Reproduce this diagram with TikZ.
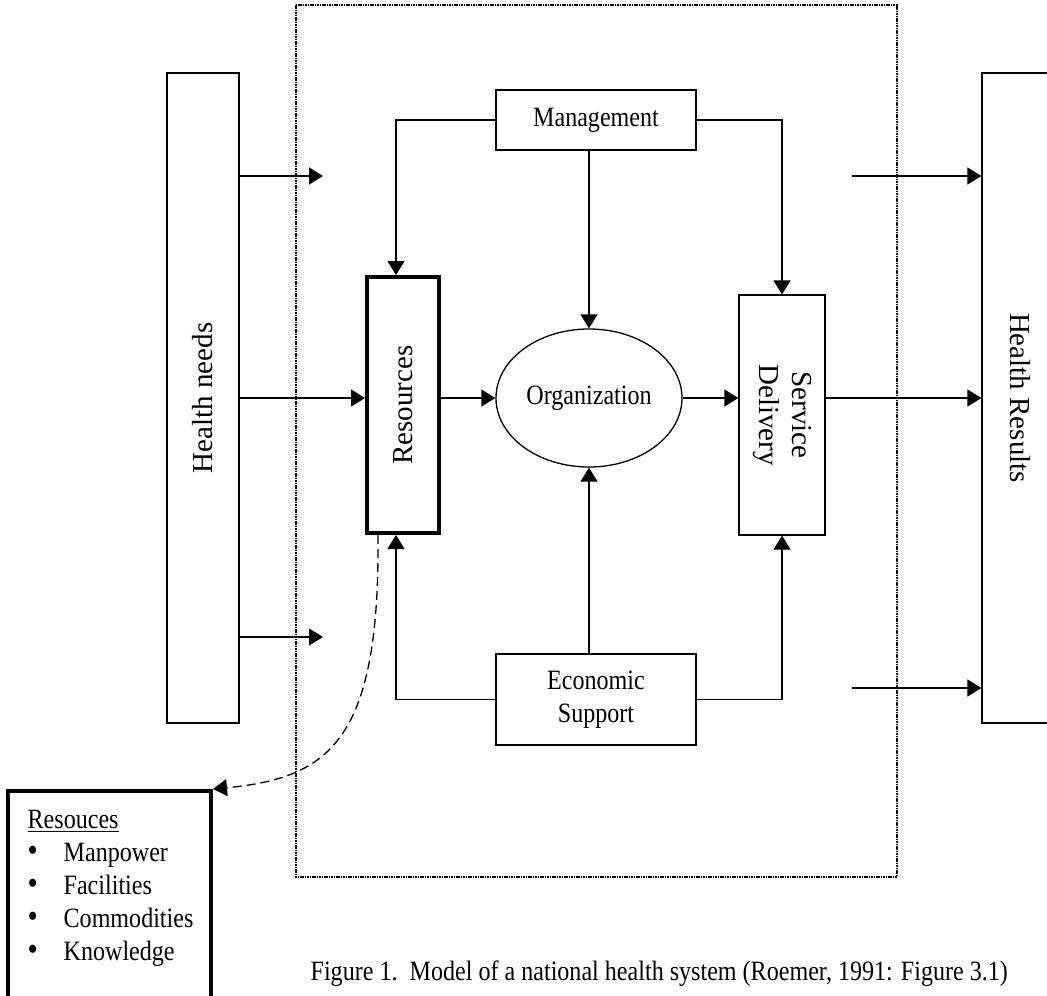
\documentclass[tikz,border=0pt]{standalone}
\usepackage{fontspec}
\setmainfont{Liberation Serif}
\newfontfamily\narrowserif{Liberation Serif}[FakeStretch=0.86]
\usetikzlibrary{arrows.meta,positioning,shapes.geometric,calc}
\newcommand{\listdot}{\makebox[18pt][l]{\fontsize{17}{0}\selectfont\textbullet}}

\begin{document}
\begin{tikzpicture}[x=0.5pt,y=-0.5pt,
  box/.style={draw,line width=0.65pt,inner sep=0pt,align=center,font=\narrowserif\fontsize{14}{16.5}\selectfont},
  sidetext/.style={font=\fontsize{14.5}{16.5}\selectfont,align=center,inner sep=0pt},
  arr/.style={-{Triangle[length=7pt,width=8.5pt]},line width=0.65pt}]
  \useasboundingbox (0,0) rectangle (1047,995);
  % System boundary
  \draw[line width=0.8pt,dash pattern=on 0.8pt off 0.4pt] (296,5) rectangle (897,877);
  % Outer columns
  \node[box,minimum width=36pt,minimum height=325pt] (needs) at (203,398) {};
  \node[sidetext,rotate=90] (needslbl) at (needs) {Health needs};
  \node[box,minimum width=35pt,minimum height=325pt] (results) at (1017,398) {};
  \node[sidetext,rotate=-90] (resultslbl) at (1020,398) {Health Results};
  % Inner boxes
  \node[box,minimum width=100pt,minimum height=30pt] (mgmt) at (596,120) {Management};
  \node[box,line width=2pt,minimum width=36pt,minimum height=128pt] (res) at (403,405) {};
  \node[sidetext,rotate=90] (reslbl) at (res) {Resources};
  \node[box,ellipse,minimum width=93pt,minimum height=69pt] (org) at (589,398) {Organization};
  \node[box,minimum width=43pt,minimum height=120pt] (sd) at (782,415) {};
  \node[sidetext,rotate=-90] (sdlbl) at (sd) {Service\\Delivery};
  \node[box,minimum width=100pt,minimum height=45.5pt] (econ) at (596,699.5) {Economic\\Support};
  % Resource list
  \node[box,line width=2pt,minimum width=101.5pt,minimum height=109pt] (resbox) at (109.5,900) {};
  \node[box,draw=none,align=left,anchor=north west] (reslist) at (27,809)
    {\underline{Resouces}\\
     \listdot Manpower\\
     \listdot Facilities\\
     \listdot Commodities\\
     \listdot Knowledge};
  % Caption
  \node[box,draw=none,anchor=base west] (caption) at (310,980)
    {Figure 1.\ \ Model of a national health system (Roemer, 1991: Figure 3.1)};
  % Inputs and outputs
  \coordinate (in1) at (323,176);
  \coordinate (in3) at (323,637);
  \coordinate (out1) at (852,176);
  \coordinate (out3) at (852,688);
  \coordinate (lft) at (396,0);
  \draw[arr] (needs.east |- in1) -- (in1);
  \draw[arr] (needs.east |- org) -- (res.west |- org);
  \draw[arr] (needs.east |- in3) -- (in3);
  \draw[arr] (out1) -- (results.west |- out1);
  \draw[arr] (sd.east |- org) -- (results.west |- org);
  \draw[arr] (out3) -- (results.west |- out3);
  % Main flow
  \draw[arr] (res.east |- org) -- (org.west);
  \draw[arr] (org.east) -- (sd.west |- org);
  % Management and economic support
  \draw[arr] (mgmt.west) -| (res.north -| lft);
  \draw[arr] (mgmt.south -| org) -- (org.north);
  \draw[arr] (mgmt.east) -| (sd.north);
  \draw[arr] (econ.west) -| (res.south -| lft);
  \draw[arr] (econ.north -| org) -- (org.south);
  \draw[arr] (econ.east) -| (sd.south);
  % Detail link
  \draw[arr,dash pattern=on 4.5pt off 2.5pt] ($(res.south west)+(13,0)$)
    .. controls (380,740) and (330,778) .. (resbox.north east);
\end{tikzpicture}
\end{document}
